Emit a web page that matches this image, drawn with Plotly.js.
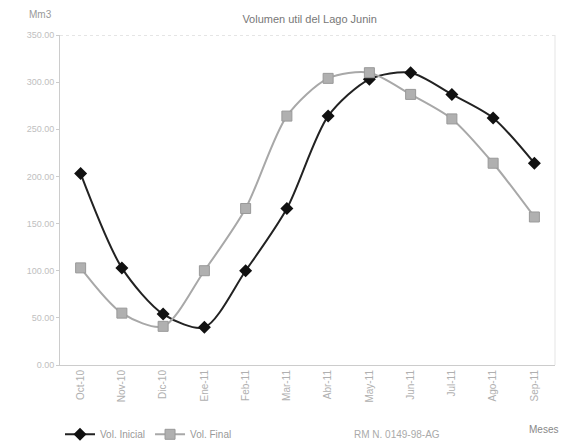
<!DOCTYPE html>
<html><head><meta charset="utf-8">
<script src="https://cdn.plot.ly/plotly-3.0.1.min.js"></script>
<style>html,body{margin:0;padding:0;background:#fff}#c{width:563px;height:447px}</style>
</head><body><div id="c"></div>
<script>
const months = ["Oct-10","Nov-10","Dic-10","Ene-11","Feb-11","Mar-11","Abr-11","May-11","Jun-11","Jul-11","Ago-11","Sep-11"];
const volInicial = [203, 103, 54, 40, 100, 166, 264, 303, 310, 287, 262, 214];
const volFinal = [103, 55, 41, 100, 166, 264, 304, 310, 287, 261, 214, 157];
const yTicks = [0, 50, 100, 150, 200, 250, 300, 350];

const traces = [
  {x: months, y: volInicial, name: "Vol. Inicial", type: "scatter", mode: "lines+markers",
   line: {color: "#222", width: 2, shape: "spline", smoothing: 0.8},
   marker: {symbol: "diamond", size: 10, color: "#111"}},
  {x: months, y: volFinal, name: "Vol. Final", type: "scatter", mode: "lines+markers",
   line: {color: "#a8a8a8", width: 2, shape: "spline", smoothing: 0.8},
   marker: {symbol: "square", size: 10, color: "#b0b0b0", line: {color: "#999", width: 1}}}
];

const layout = {
  width: 563, height: 447,
  margin: {l: 60, r: 8, t: 35, b: 82, autoexpand: false},
  paper_bgcolor: "#fff", plot_bgcolor: "#fff",
  font: {family: "Liberation Sans, Arial, sans-serif", color: "#9a9a9a", size: 10},
  title: {text: "Volumen util del Lago Junin", x: 0.55, xanchor: "center", y: 0.965, yanchor: "top",
          font: {size: 11, color: "#777"}},
  showlegend: true,
  legend: {orientation: "h", x: 0.0, xanchor: "left", y: -0.21, yanchor: "middle",
           font: {size: 10, color: "#999"}, bgcolor: "rgba(0,0,0,0)"},
  xaxis: {type: "category", tickangle: -90, showgrid: false, showline: true,
          linecolor: "#ccc", linewidth: 1, ticks: "", tickfont: {size: 10, color: "#b0b0b0"},
          mirror: false, range: [-0.5, 11.5], automargin: false},
  yaxis: {range: [0, 350], tickvals: yTicks, tickformat: ".2f", showgrid: false,
          showline: true, linecolor: "#ccc", ticks: "outside", ticklen: 3, tickcolor: "#ccc",
          tickfont: {size: 9, color: "#c0c0c0"}, zeroline: false, automargin: false},
  shapes: [
    {type: "line", xref: "paper", yref: "y", x0: 0, x1: 1, y0: 350, y1: 350,
     line: {color: "#ccc", width: 1, dash: "dot"}},
    {type: "line", xref: "paper", yref: "paper", x0: 1, x1: 1, y0: 0, y1: 1,
     line: {color: "#e5e5e5", width: 1}}
  ],
  annotations: [
    {text: "Mm3", xref: "paper", yref: "paper", x: -0.04, y: 1.04, xanchor: "center", yanchor: "bottom",
     showarrow: false, font: {size: 10, color: "#999"}},
    {text: "Meses", xref: "paper", yref: "paper", x: 1.01, y: -0.195, xanchor: "right", yanchor: "middle",
     showarrow: false, font: {size: 10, color: "#888"}},
    {text: "RM N. 0149-98-AG", xref: "paper", yref: "paper", x: 0.68, y: -0.21, xanchor: "center", yanchor: "middle",
     showarrow: false, font: {size: 10, color: "#aaa"}}
  ]
};
Plotly.newPlot("c", traces, layout, {displayModeBar: false, staticPlot: true});
</script></body></html>
